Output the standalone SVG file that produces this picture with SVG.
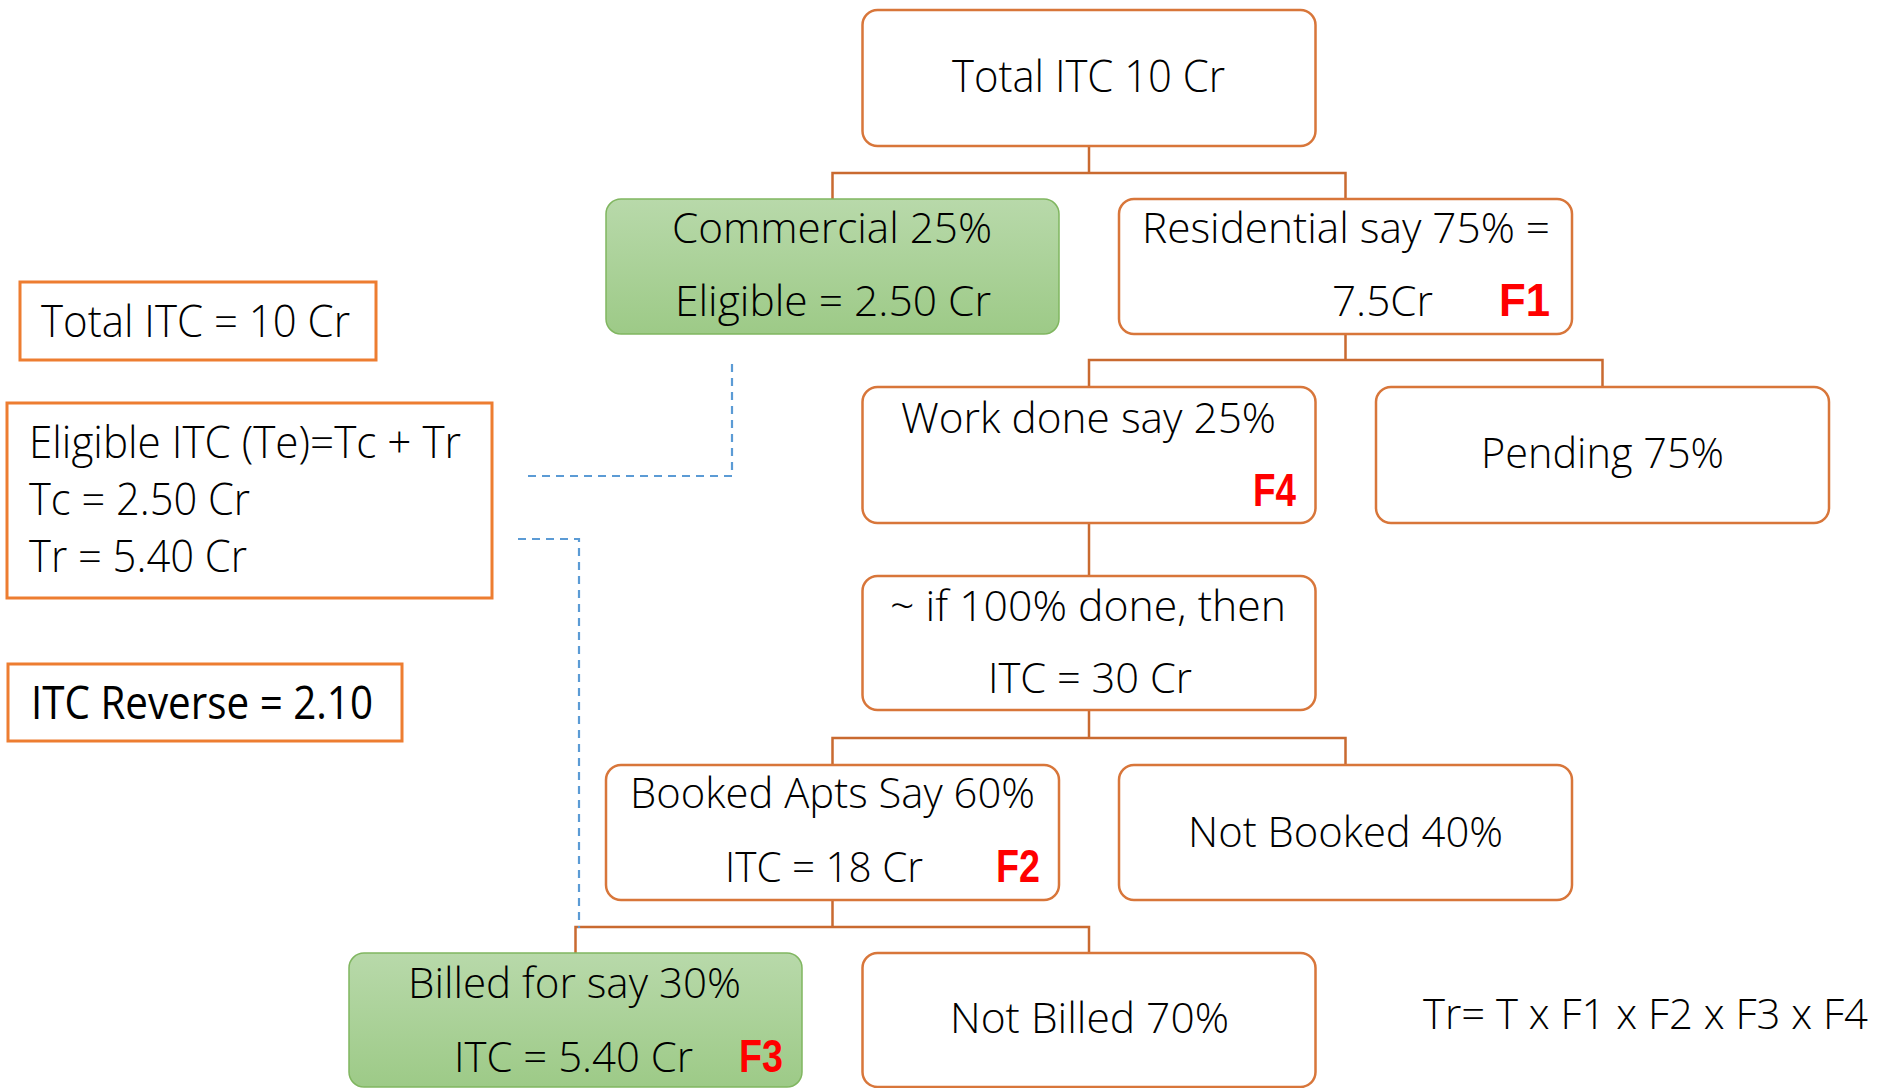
<svg xmlns="http://www.w3.org/2000/svg" width="1877" height="1088" viewBox="0 0 1877 1088">
  <defs>
    <linearGradient id="greenFill" x1="0" y1="0" x2="0" y2="1">
      <stop offset="0" stop-color="#B8D9AA"/>
      <stop offset="1" stop-color="#9DCA87"/>
    </linearGradient>
    <style>
      .box { fill: #FFFFFF; stroke: #D8763A; stroke-width: 2.5; }
      .green { fill: url(#greenFill); stroke: #80B660; stroke-width: 1.5; }
      .note { fill: #FFFFFF; stroke: #ED7D31; stroke-width: 3; }
      .link { fill: none; stroke: #C96A30; stroke-width: 2.5; }
      .dash { fill: none; stroke: #5B9BD5; stroke-width: 2.2; stroke-dasharray: 8 6; }
      .t { font-family: "Open Sans", "Noto Sans", "Liberation Sans", sans-serif; font-weight: 300; font-size: 42px; fill: #000000; }
      .tl { font-size: 45px; }
      .tr { font-weight: 400; font-size: 45px; }
      .f { font-family: "Liberation Sans", Arial, sans-serif; font-weight: 700; font-size: 46px; fill: #FF0000; }
    </style>
  </defs>

  <!-- tree connectors -->
  <g id="connectors">
    <path class="link" d="M1089,146 V173 M832.5,199 V173 H1345.5 V199"/>
    <path class="link" d="M1345.5,334 V360 M1089,387 V360 H1602.5 V387"/>
    <path class="link" d="M1089,523 V576"/>
    <path class="link" d="M1089,710 V738 M832.5,765 V738 H1345.5 V765"/>
    <path class="link" d="M832.5,900 V927 M575.5,953 V927 H1089 V953"/>
    <path class="dash" d="M528,476 H732 V359"/>
    <path class="dash" d="M518,539 H579 V928"/>
  </g>

  <g id="total-itc">
    <rect class="box" x="862.5" y="10" width="453" height="136" rx="15"/>
    <text class="t tl" x="952" y="92" textLength="273" lengthAdjust="spacingAndGlyphs">Total ITC 10 Cr</text>
  </g>

  <g id="commercial">
    <rect class="green" x="606" y="199" width="453" height="135" rx="15"/>
    <text class="t" x="672" y="243" textLength="320" lengthAdjust="spacingAndGlyphs">Commercial 25%</text>
    <text class="t" x="675" y="316" textLength="316" lengthAdjust="spacingAndGlyphs">Eligible = 2.50 Cr</text>
  </g>

  <g id="residential">
    <rect class="box" x="1119" y="199" width="453" height="135" rx="15"/>
    <text class="t" x="1142" y="243" textLength="408" lengthAdjust="spacingAndGlyphs">Residential say 75% =</text>
    <text class="t" x="1332" y="316" textLength="101" lengthAdjust="spacingAndGlyphs">7.5Cr</text>
    <text class="f" x="1499" y="316" textLength="51" lengthAdjust="spacingAndGlyphs">F1</text>
  </g>

  <g id="work-done">
    <rect class="box" x="862.5" y="387" width="453" height="136" rx="15"/>
    <text class="t" x="901" y="433" textLength="375" lengthAdjust="spacingAndGlyphs">Work done say 25%</text>
    <text class="f" x="1253" y="506" textLength="43" lengthAdjust="spacingAndGlyphs">F4</text>
  </g>

  <g id="pending">
    <rect class="box" x="1376" y="387" width="453" height="136" rx="15"/>
    <text class="t" x="1481" y="468" textLength="243" lengthAdjust="spacingAndGlyphs">Pending 75%</text>
  </g>

  <g id="full-done">
    <rect class="box" x="862.5" y="576" width="453" height="134" rx="15"/>
    <text class="t" x="890" y="621" textLength="396" lengthAdjust="spacingAndGlyphs">~ if 100% done, then</text>
    <text class="t" x="988" y="693" textLength="204" lengthAdjust="spacingAndGlyphs">ITC = 30 Cr</text>
  </g>

  <g id="booked">
    <rect class="box" x="606" y="765" width="453" height="135" rx="15"/>
    <text class="t" x="630" y="808" textLength="405" lengthAdjust="spacingAndGlyphs">Booked Apts Say 60%</text>
    <text class="t" x="725" y="882" textLength="198" lengthAdjust="spacingAndGlyphs">ITC = 18 Cr</text>
    <text class="f" x="996" y="882" textLength="44" lengthAdjust="spacingAndGlyphs">F2</text>
  </g>

  <g id="not-booked">
    <rect class="box" x="1119" y="765" width="453" height="135" rx="15"/>
    <text class="t" x="1188" y="847" textLength="315" lengthAdjust="spacingAndGlyphs">Not Booked 40%</text>
  </g>

  <g id="billed">
    <rect class="green" x="349" y="953" width="453" height="134" rx="15"/>
    <text class="t" x="408" y="998" textLength="333" lengthAdjust="spacingAndGlyphs">Billed for say 30%</text>
    <text class="t" x="454" y="1072" textLength="239" lengthAdjust="spacingAndGlyphs">ITC = 5.40 Cr</text>
    <text class="f" x="739" y="1072" textLength="44" lengthAdjust="spacingAndGlyphs">F3</text>
  </g>

  <g id="not-billed">
    <rect class="box" x="862.5" y="953" width="453" height="134" rx="15"/>
    <text class="t" x="950" y="1033" textLength="279" lengthAdjust="spacingAndGlyphs">Not Billed 70%</text>
  </g>

  <!-- side notes -->
  <g id="note-total">
    <rect class="note" x="20" y="282" width="356" height="78"/>
    <text class="t tl" x="41" y="337" textLength="309" lengthAdjust="spacingAndGlyphs">Total ITC = 10 Cr</text>
  </g>

  <g id="note-eligible">
    <rect class="note" x="7" y="403" width="485" height="195"/>
    <text class="t tl" x="29" y="458" textLength="432" lengthAdjust="spacingAndGlyphs">Eligible ITC (Te)=Tc + Tr</text>
    <text class="t tl" x="29" y="515" textLength="221" lengthAdjust="spacingAndGlyphs">Tc = 2.50 Cr</text>
    <text class="t tl" x="29" y="572" textLength="218" lengthAdjust="spacingAndGlyphs">Tr = 5.40 Cr</text>
  </g>

  <g id="note-reverse">
    <rect class="note" x="8" y="664" width="394" height="77"/>
    <text class="t tr" x="31" y="719" textLength="342" lengthAdjust="spacingAndGlyphs">ITC Reverse = 2.10</text>
  </g>

  <g id="formula">
    <text class="t" x="1423" y="1029" style="font-size:43px" textLength="445" lengthAdjust="spacingAndGlyphs">Tr= T x F1 x F2 x F3 x F4</text>
  </g>
</svg>
